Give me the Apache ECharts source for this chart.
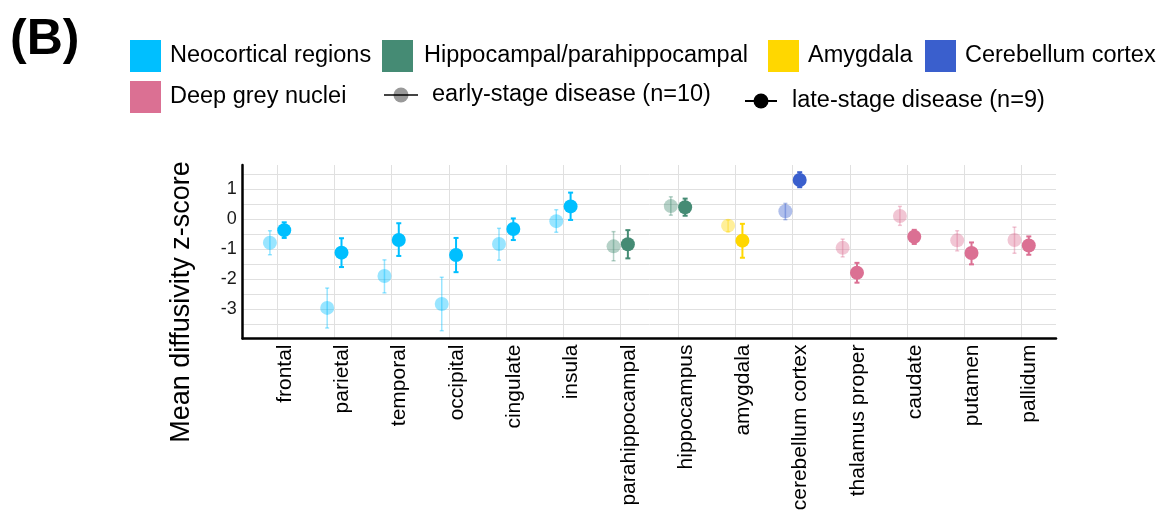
<!DOCTYPE html>
<html>
<head>
<meta charset="utf-8">
<script src="https://cdn.jsdelivr.net/npm/echarts@6/dist/echarts.min.js"></script>
<style>
  html, body { margin: 0; padding: 0; background: #fff; }
  #chart { width: 1159px; height: 514px; }
</style>
</head>
<body>
<div id="chart"></div>
<script>
// Brain regions along the x axis and the tissue group each belongs to
const regions = ['frontal', 'parietal', 'temporal', 'occipital', 'cingulate', 'insula',
  'parahippocampal', 'hippocampus', 'amygdala', 'cerebellum cortex',
  'thalamus proper', 'caudate', 'putamen', 'pallidum'];
const regionGroup = [0, 0, 0, 0, 0, 0, 1, 1, 2, 3, 4, 4, 4, 4];

const groupNames = ['Neocortical regions', 'Hippocampal/parahippocampal', 'Amygdala',
  'Cerebellum cortex', 'Deep grey nuclei'];
const groupColors = ['#00BFFF', '#458B74', '#FFD700', '#3A5FCD', '#DB7093'];

const stageNames = ['early-stage disease (n=10)', 'late-stage disease (n=9)'];

// Mean diffusivity z-scores with interval bounds
const earlyMean = [-0.78, -2.95, -1.89, -2.82, -0.82, -0.06, -0.90, 0.44, -0.21, 0.27, -0.95, 0.11, -0.70, -0.69];
const earlyLow  = [-1.18, -3.62, -2.45, -3.71, -1.36, -0.43, -1.38, 0.14, -0.41, -0.01, -1.25, -0.20, -1.05, -1.13];
const earlyHigh = [-0.38, -2.29, -1.35, -1.93, -0.30, 0.32, -0.41, 0.75, -0.02, 0.53, -0.66, 0.43, -0.38, -0.26];

const lateMean = [-0.36, -1.11, -0.69, -1.19, -0.32, 0.43, -0.83, 0.40, -0.71, 1.31, -1.78, -0.58, -1.12, -0.87];
const lateLow  = [-0.62, -1.59, -1.22, -1.76, -0.69, -0.02, -1.30, 0.12, -1.28, 1.07, -2.11, -0.82, -1.50, -1.18];
const lateHigh = [-0.10, -0.63, -0.13, -0.62, 0.03, 0.89, -0.36, 0.69, -0.15, 1.57, -1.45, -0.35, -0.77, -0.57];

const yTickLabels = [-3, -2, -1, 0, 1];
const yGridValues = [-3.5, -3, -2.5, -2, -1.5, -1, -0.5, 0, 0.5, 1, 1.5];

const FONT = "'Liberation Sans', Arial, Helvetica, sans-serif";
const DODGE = 0.125;

function pointData(means, offset) {
  return means.map((m, i) => [i + offset, m, regionGroup[i]]);
}
function barData(lows, highs, offset) {
  return lows.map((lo, i) => [i + offset, lo, highs[i], regionGroup[i]]);
}

function errorBarRenderer(alpha, width, cap) {
  return function (params, api) {
    const x = api.value(0);
    const lo = api.coord([x, api.value(1)]);
    const hi = api.coord([x, api.value(2)]);
    const color = groupColors[api.value(3)];
    const style = { stroke: color, lineWidth: width, opacity: alpha };
    return {
      type: 'group',
      children: [
        { type: 'line', shape: { x1: hi[0], y1: hi[1], x2: lo[0], y2: lo[1] }, style: style },
        { type: 'line', shape: { x1: hi[0] - cap, y1: hi[1], x2: hi[0] + cap, y2: hi[1] }, style: style },
        { type: 'line', shape: { x1: lo[0] - cap, y1: lo[1], x2: lo[0] + cap, y2: lo[1] }, style: style }
      ]
    };
  };
}

// Legend drawn as graphic elements
const legendGraphics = [];
const row1Y = 56, row2Y = 97;
const LEGEND_FONT = 23.5;
const swatches = [
  { g: 0, x: 130, y: row1Y, tx: 170 },
  { g: 1, x: 382, y: row1Y, tx: 424 },
  { g: 2, x: 768, y: row1Y, tx: 808 },
  { g: 3, x: 925, y: row1Y, tx: 965 },
  { g: 4, x: 130, y: row2Y, tx: 170 }
];
swatches.forEach(s => {
  legendGraphics.push({
    type: 'rect', shape: { x: s.x, y: s.y - 16, width: 31, height: 32 },
    style: { fill: groupColors[s.g] }
  });
  legendGraphics.push({
    type: 'text', x: s.tx, y: s.y,
    style: { text: groupNames[s.g], fontSize: LEGEND_FONT, fontFamily: FONT, fill: '#000',
      textAlign: 'left', textVerticalAlign: 'middle' }
  });
});
const stageKeys = [
  { x1: 384, x2: 418, y: 95, tx: 432, line: '#444', fill: 'rgba(0,0,0,0.4)' },
  { x1: 745, x2: 777, y: 101, tx: 792, line: '#000', fill: '#000' }
];
stageKeys.forEach((k, i) => {
  legendGraphics.push({
    type: 'line', shape: { x1: k.x1, y1: k.y, x2: k.x2, y2: k.y },
    style: { stroke: k.line, lineWidth: 2 }
  });
  legendGraphics.push({
    type: 'circle', shape: { cx: (k.x1 + k.x2) / 2, cy: k.y, r: 7.5 },
    style: { fill: k.fill }
  });
  legendGraphics.push({
    type: 'text', x: k.tx, y: k.y,
    style: { text: stageNames[i], fontSize: LEGEND_FONT, fontFamily: FONT, fill: '#000',
      textAlign: 'left', textVerticalAlign: 'middle' }
  });
});

const chart = echarts.init(document.getElementById('chart'), null, { renderer: 'canvas' });

chart.setOption({
  animation: false,
  backgroundColor: '#fff',
  grid: {
    left: 242.7, right: 103, top: 165, bottom: 175.5,
    containLabel: false, outerBoundsMode: 'none'
  },
  graphic: [
    {
      type: 'text', x: 10, y: 40,
      style: { text: '(B)', fontSize: 50, fontWeight: 'bold', fontFamily: FONT, fill: '#000',
        textAlign: 'left', textVerticalAlign: 'middle' }
    },
    {
      type: 'text', x: 182, y: 302, rotation: Math.PI / 2,
      style: { text: 'Mean diffusivity z-score', fontSize: 27, fontFamily: FONT, fill: '#000',
        textAlign: 'center', textVerticalAlign: 'middle' }
    }
  ].concat(legendGraphics),
  xAxis: {
    type: 'value',
    min: -0.6,
    max: 13.6,
    axisLine: { show: true, onZero: false, lineStyle: { color: '#000', width: 2.5 } },
    axisTick: { show: false, customValues: regions.map((_, i) => i) },
    axisLabel: {
      customValues: regions.map((_, i) => i + 0.14),
      formatter: v => regions[Math.round(v)],
      rotate: 90, fontSize: 21, fontFamily: FONT, color: '#000', margin: 6
    },
    splitLine: { show: true, lineStyle: { color: '#e0e0e0', width: 1 } }
  },
  yAxis: {
    type: 'value',
    min: -3.97,
    max: 1.81,
    axisLine: { show: true, onZero: false, lineStyle: { color: '#000', width: 2.5 } },
    axisTick: { show: false, customValues: yGridValues },
    axisLabel: {
      customValues: yTickLabels,
      fontSize: 18, fontFamily: FONT, color: '#1a1a1a', margin: 6
    },
    splitLine: { show: true, lineStyle: { color: '#e0e0e0', width: 1 } }
  },
  series: [
    {
      type: 'scatter', name: stageNames[0], z: 3,
      symbol: 'circle', symbolSize: 14,
      data: pointData(earlyMean, -DODGE).map(d => ({
        value: d, itemStyle: { color: groupColors[d[2]], opacity: 0.4 }
      }))
    },
    {
      type: 'custom', name: stageNames[0] + ' bars', z: 4,
      renderItem: errorBarRenderer(0.4, 1.5, 2),
      encode: { x: 0, y: [1, 2] },
      data: barData(earlyLow, earlyHigh, -DODGE)
    },
    {
      type: 'custom', name: stageNames[1] + ' bars', z: 2,
      renderItem: errorBarRenderer(1, 2, 2.5),
      encode: { x: 0, y: [1, 2] },
      data: barData(lateLow, lateHigh, DODGE)
    },
    {
      type: 'scatter', name: stageNames[1], z: 3,
      symbol: 'circle', symbolSize: 14,
      data: pointData(lateMean, DODGE).map(d => ({
        value: d, itemStyle: { color: groupColors[d[2]], opacity: 1 }
      }))
    }
  ]
});
</script>
</body>
</html>
